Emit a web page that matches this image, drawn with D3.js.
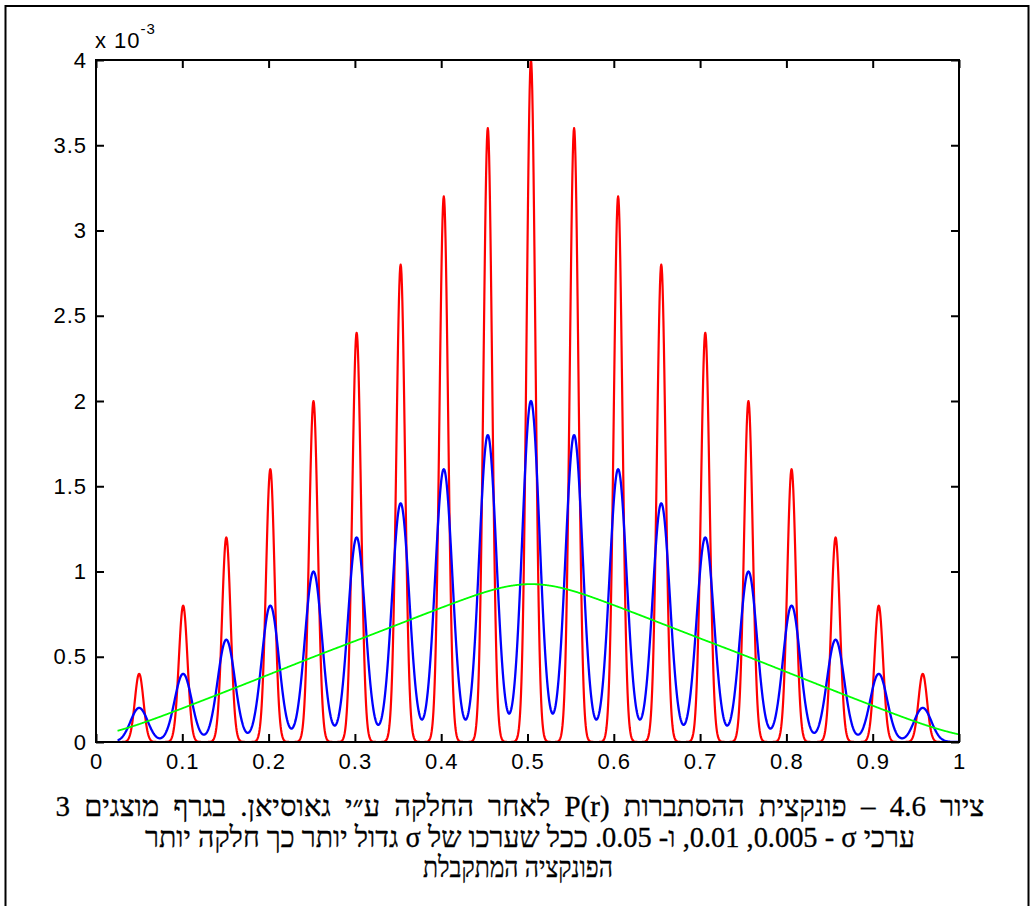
<!DOCTYPE html>
<html>
<head>
<meta charset="utf-8">
<script src="https://cdn.jsdelivr.net/npm/d3@7"></script>
<style>
  body { margin: 0; background: #fff; }
  svg { display: block; }
</style>
</head>
<body>
<svg id="chart" width="1034" height="906"></svg>
<script>
// Positions r_k of the discrete lattice peaks of P(r)
const peakR = [0.050, 0.101, 0.151, 0.202, 0.252, 0.302, 0.353, 0.403, 0.454, 0.504,
               0.554, 0.605, 0.655, 0.706, 0.756, 0.806, 0.857, 0.907, 0.958];
// Peak heights (×10^-3) of the curve smoothed with the narrowest Gaussian
const peakHeight = [0.4, 0.8, 1.2, 1.6, 2.0, 2.4, 2.8, 3.2, 3.6, 4.0,
                    3.6, 3.2, 2.8, 2.4, 2.0, 1.6, 1.2, 0.8, 0.4];
// Gaussian widths used for the three smoothed curves
const sigmas = [0.005, 0.01, 0.05];
const curveColors = ["#ff0000", "#0000ff", "#00ff00"];
const curveWidths = [2.2, 2.3, 1.8];
// r range covered by the curves and the sampling step along r
const rRange = [0.025, 1.0];
const rStep = 0.0005;
// Axis ticks
const xTicks = [0, 0.1, 0.2, 0.3, 0.4, 0.5, 0.6, 0.7, 0.8, 0.9, 1];
const yTicks = [0, 0.5, 1, 1.5, 2, 2.5, 3, 3.5, 4];
const yTickLabels = ["0", "0.5", "1", "1.5", "2", "2.5", "3", "3.5", "4"];
// Caption lines (Hebrew, right-to-left); U+200F keeps σ next to the word before it
const captionLines = [
  "ציור 4.6 – פונקצית ההסתברות P(r) לאחר החלקה ע״י גאוסיאן. בגרף מוצגים 3",
  "ערכי σ\u200F - 0.005, 0.01, ו- 0.05. ככל שערכו של σ גדול יותר כך חלקה יותר",
  "הפונקציה המתקבלת"
];

const svg = d3.select("#chart");
const plot = { left: 96, right: 959, top: 60, bottom: 742 };

// outer frame
svg.append("rect")
  .attr("x", 5.5).attr("y", 6).attr("width", 1023).attr("height", 940)
  .attr("fill", "none").attr("stroke", "#000").attr("stroke-width", 2);

const x = d3.scaleLinear().domain([0, 1]).range([plot.left, plot.right]);
const y = d3.scaleLinear().domain([0, 4]).range([plot.bottom, plot.top]);

// Each curve is the peak set convolved with a Gaussian of width sigma.
// The total weight of each peak is fixed by the narrowest curve's heights.
const rs = d3.range(rRange[0], rRange[1] + rStep / 2, rStep);
function smoothed(sigma) {
  const scale = sigmas[0] / sigma;
  return rs.map(r => {
    let v = 0;
    peakR.forEach((c, k) => {
      const d = (r - c) / sigma;
      v += peakHeight[k] * scale * Math.exp(-0.5 * d * d);
    });
    return [r, v];
  });
}

const line = d3.line().x(d => x(d[0])).y(d => y(d[1]));

svg.append("clipPath").attr("id", "plotclip")
  .append("rect")
  .attr("x", plot.left).attr("y", plot.top - 2)
  .attr("width", plot.right - plot.left).attr("height", plot.bottom - plot.top + 2);

const curves = svg.append("g").attr("clip-path", "url(#plotclip)");
sigmas.forEach((s, i) => {
  curves.append("path")
    .datum(smoothed(s))
    .attr("d", line)
    .attr("fill", "none")
    .attr("stroke", curveColors[i])
    .attr("stroke-width", curveWidths[i])
    .attr("stroke-linejoin", "round");
});

// axes box with inward ticks on all four sides
const tickLen = 8;
const axisFont = "'Liberation Sans', Arial, sans-serif";
const axisFontSize = 22;

const bottomAxis = d3.axisBottom(x).tickValues(xTicks).tickSize(-tickLen)
  .tickPadding(11).tickFormat(d3.format("~g"));
const topAxis = d3.axisTop(x).tickValues(xTicks).tickSize(-tickLen).tickFormat("");
const leftAxis = d3.axisLeft(y).tickValues(yTicks).tickSize(-tickLen)
  .tickPadding(9).tickFormat((d, i) => yTickLabels[i]);
const rightAxis = d3.axisRight(y).tickValues(yTicks).tickSize(-tickLen).tickFormat("");

function styleAxis(g) {
  g.attr("font-size", axisFontSize).attr("font-family", axisFont);
  g.select(".domain").remove();
  g.selectAll(".tick line").attr("stroke", "#000").attr("stroke-width", 2);
  g.selectAll(".tick text").attr("fill", "#000")
    .attr("font-family", axisFont).attr("font-size", axisFontSize)
    .style("letter-spacing", "1px");
}

svg.append("g").attr("transform", `translate(0,${plot.bottom})`).call(bottomAxis).call(styleAxis);
svg.append("g").attr("transform", `translate(0,${plot.top})`).call(topAxis).call(styleAxis);
svg.append("g").attr("transform", `translate(${plot.left},0)`).call(leftAxis).call(styleAxis);
svg.append("g").attr("transform", `translate(${plot.right},0)`).call(rightAxis).call(styleAxis);

svg.append("rect")
  .attr("x", plot.left).attr("y", plot.top)
  .attr("width", plot.right - plot.left).attr("height", plot.bottom - plot.top)
  .attr("fill", "none").attr("stroke", "#000").attr("stroke-width", 2);

// exponent label
const expo = svg.append("text")
  .attr("x", 95).attr("y", 48)
  .attr("font-family", axisFont).attr("font-size", axisFontSize).attr("fill", "#000")
  .style("letter-spacing", "1px");
expo.append("tspan").text("x 10");
expo.append("tspan").attr("font-size", 15).attr("dy", -14).text("-3");

// caption: three centred lines
const capFont = "'Liberation Serif', 'Times New Roman', serif";
const capSize = 29;
const capCenter = [520, 530, 518];
const capWidth = [929, 770, 190];
const capY = [816, 847, 877];
captionLines.forEach((t, i) => {
  const txt = svg.append("text")
    .attr("x", capCenter[i]).attr("y", capY[i])
    .attr("text-anchor", "middle")
    .attr("direction", "rtl")
    .attr("font-family", capFont)
    .attr("font-size", capSize)
    .attr("fill", "#000")
    .attr("stroke", "#000").attr("stroke-width", 0.3)
    .style("unicode-bidi", "embed")
    .text(t);
  const natural = txt.node().getComputedTextLength();
  const spaces = (t.match(/ /g) || []).length;
  if (natural < capWidth[i]) {
    txt.style("word-spacing", `${(capWidth[i] - natural) / spaces}px`);
  } else {
    txt.attr("textLength", capWidth[i]).attr("lengthAdjust", "spacingAndGlyphs");
  }
});
</script>
</body>
</html>
